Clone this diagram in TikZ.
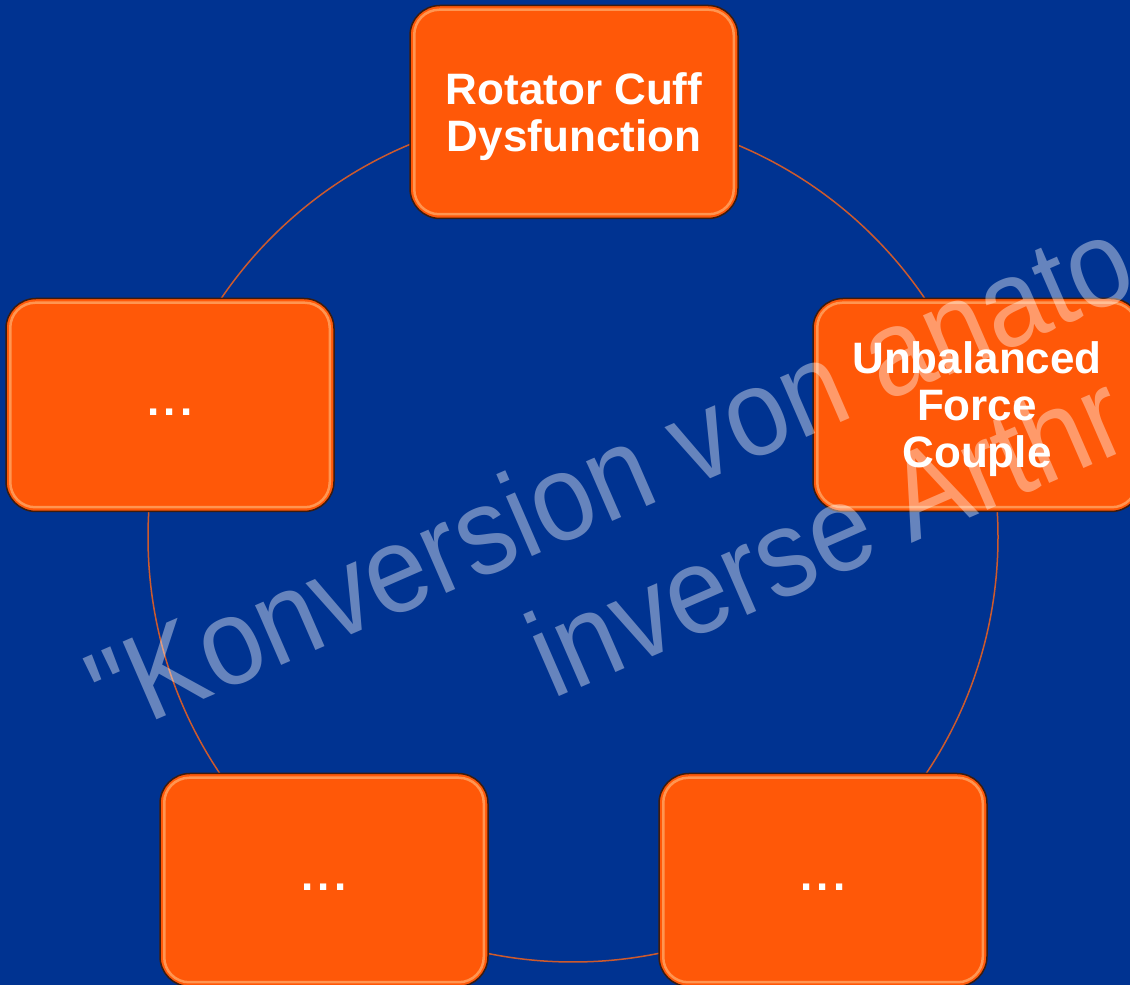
\documentclass[tikz,border=0pt]{standalone}
\usepackage{fontspec}
\setmainfont{Liberation Sans}
\newfontfamily\wmfont{Liberation Sans}[Ligatures=TeXOff]
\definecolor{bgblue}{RGB}{0,51,145}
\definecolor{boxorange}{RGB}{255,88,8}
\definecolor{boxedge}{RGB}{60,28,15}
\definecolor{boxshine}{RGB}{255,190,130}
\definecolor{ringline}{RGB}{205,90,45}
\newcommand{\boxdots}{\rule{0pt}{22pt}.\hspace{4pt}.\hspace{4pt}.}
\tikzset{
  cyclebox/.style={draw=boxedge, line width=1.5pt, fill=boxorange, rounded corners=30pt,
    minimum width=328pt, minimum height=213pt, inner sep=0pt, text=white, align=center,
    font=\bfseries\fontsize{44}{47}\selectfont},
  shine/.style={draw=boxshine, line width=2.5pt, rounded corners=25pt, opacity=0.6},
  watermark/.style={text=white, text opacity=0.4, font=\wmfont\fontsize{112}{112}\selectfont,
    inner sep=0pt, anchor=base west, rotate=23.5, yscale=1.1}
}
\begin{document}
\begin{tikzpicture}[x=1pt,y=1pt]
  \useasboundingbox (0,0) rectangle (1130,985);
  \clip (0,0) rectangle (1130,985);
  \fill[bgblue] (0,0) rectangle (1130,985);

  % ring behind the boxes
  \coordinate (ring) at (573,448);
  \draw[ringline, line width=1.5pt] (ring) circle (425pt);

  \node[cyclebox] (rcd) at (574,873) {\rule{0pt}{42pt}Rotator Cuff\\Dysfunction};
  \node[cyclebox] (ufc) at (977,580) {\rule{0pt}{40pt}Unbalanced\\Force\\Couple};
  \node[cyclebox] (brb) at (823,105) {\boxdots};
  \node[cyclebox] (blb) at (324,105) {\boxdots};
  \node[cyclebox] (lfb) at (170,580) {\boxdots};

  \foreach \b in {rcd,ufc,brb,blb,lfb}
    \draw[shine] ([shift={(5pt,-5pt)}]\b.north west) rectangle ([shift={(-5pt,5pt)}]\b.south east);

  % watermark
  \node[watermark] (wmone) at (112,246) {"Konversion von anato};
  \node[watermark] (wmtwo) at (552,285) {inverse Arthr};
\end{tikzpicture}
\end{document}
